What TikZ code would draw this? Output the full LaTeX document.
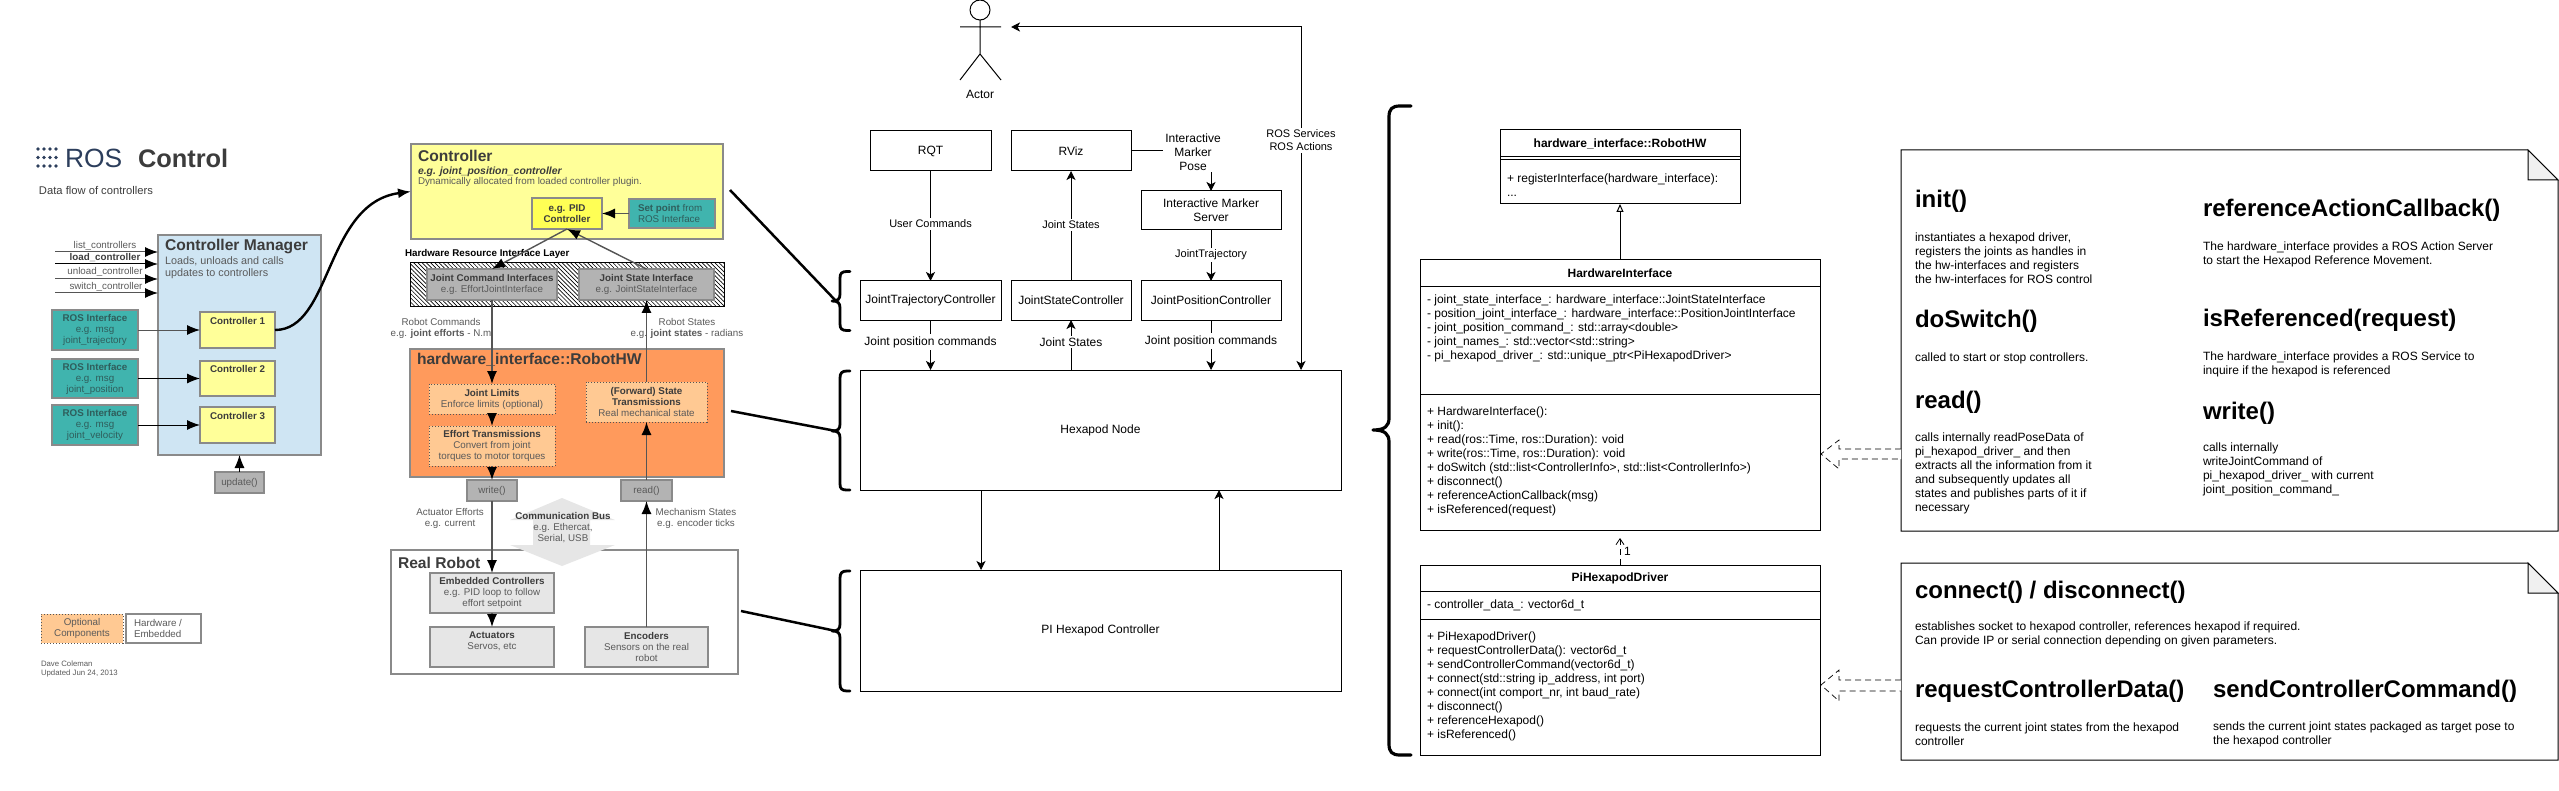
\documentclass[tikz,border=0pt]{standalone}
\usepackage{fontspec}
\setmainfont{Liberation Sans}
\usetikzlibrary{arrows.meta,patterns.meta,calc}
\definecolor{tdark}{HTML}{3C3C3C}
\definecolor{tmid}{HTML}{5A5A5A}
\definecolor{tealbox}{HTML}{40B4AE}
\definecolor{tealtxt}{HTML}{2F5E5C}
\definecolor{yellowbox}{HTML}{FFFF99}
\definecolor{pidbox}{HTML}{FFFF55}
\definecolor{bluebox}{HTML}{CFE5F3}
\definecolor{orangebox}{HTML}{FF9A5C}
\definecolor{peachbox}{HTML}{FFC993}
\definecolor{greybox}{HTML}{B3B3B3}
\definecolor{lightbox}{HTML}{E6E6E6}
\definecolor{edgegrey}{HTML}{8A8A8A}
\definecolor{rosblue}{HTML}{2C3E5C}
\definecolor{arrgrey}{HTML}{555555}
\newcommand\bx[7]{\node[#6,inner sep=0pt,outer sep=0pt,align=center,minimum width={(#4-#2)*0.5},minimum height={(#5-#3)*0.5}] (#1) at ({(#2+#4)/2},{(#3+#5)/2}) {#7};}
\newcommand\tx[5]{\node[inner sep=0pt,outer sep=0pt,#4] (#1) at (#2,#3) {#5};}
\tikzset{
 sz49/.style={font=\fontsize{4.9}{5.5}\selectfont},
 szhead/.style={font=\fontsize{7.8}{9}\selectfont\bfseries,text=tdark},
 ltxt/.style={sz49,text=tmid,align=center},
 sz6/.style={font=\fontsize{6}{7}\selectfont},
 sz55/.style={font=\fontsize{5.5}{6.5}\selectfont},
 titlebig/.style={font=\fontsize{12}{14}\selectfont\bfseries,anchor=west},
 bodytxt/.style={sz6,anchor=west,align=left},
 umltxt/.style={sz6,anchor=west,align=left},
 umlbox/.style={draw=black,line width=.5pt,sz6},
 flowbox/.style={draw=black,line width=.5pt,sz6},
 gbox/.style={draw=edgegrey,line width=.6pt},
 gheavy/.style={draw=edgegrey,line width=.8pt},
 dotbox/.style={draw=arrgrey,densely dotted,line width=.5pt,fill=peachbox,ltxt},
 bigtip/.style={-{Latex[length=6.5pt,width=5pt,color=black]}},
 ctlarrow/.style={bigtip,draw=black,line width=.5pt},
 garrow/.style={bigtip,draw=arrgrey,line width=.7pt},
 flowarrow/.style={-{Stealth[length=4.5pt,width=4.5pt,inset=1.2pt]},draw=black,line width=.5pt},
 lab/.style={fill=white,inner sep=1pt,sz55},
 lab6/.style={fill=white,inner sep=1pt,sz6},
 thickline/.style={draw=black,line width=1.25pt,line join=round},
 bracepath/.style={draw=black,line width=1.4pt,line cap=round,line join=round},
 hollow/.style={draw=black,densely dashed,line width=.35pt,fill=white},
}
\begin{document}
\begin{tikzpicture}[x=0.5pt,y=-0.5pt]
\useasboundingbox (0,0) rectangle (2559,791);
% ---------- logo
\foreach \a in {38,44,50,56}{\foreach \b in {149,157.5,166}{\fill[rosblue] (\a,\b) circle (1.9);}}
\tx{rosword}{65}{158}{anchor=west,text=rosblue,font=\fontsize{13.2}{15}\selectfont}{ROS}
\tx{ctrlword}{138}{158}{anchor=west,text=tdark,font=\fontsize{12.7}{15}\selectfont\bfseries}{Control}
\tx{flowword}{39}{190}{anchor=west,text=tdark,font=\fontsize{5.6}{7}\selectfont}{Data flow of controllers}
% ---------- controller manager
\bx{cm}{158}{235}{321}{455}{gbox,fill=bluebox}{}
\tx{cmtitle}{165}{247}{anchor=west,szhead}{Controller Manager}
\tx{cmsub}{165}{268}{anchor=west,align=left,text=tmid,font=\fontsize{5.4}{6}\selectfont}{Loads, unloads and calls\\updates to controllers}
\coordinate (s1) at (55,252); \coordinate (s2) at (55,264); \coordinate (s3) at (55,279); \coordinate (s4) at (55,293);
\draw[ctlarrow,draw=arrgrey] (s1) -- (s1 -| cm.west);
\draw[ctlarrow] (s2) -- (s2 -| cm.west);
\draw[ctlarrow,draw=arrgrey] (s3) -- (s3 -| cm.west);
\draw[ctlarrow,draw=arrgrey] (s4) -- (s4 -| cm.west);
\tx{l1}{105}{246}{ltxt}{list\_controllers}
\tx{l2}{105}{258}{sz49,text=tdark}{\textbf{load\_controller}}
\tx{l3}{105}{272}{ltxt}{unload\_controller}
\tx{l4}{106}{287}{ltxt}{switch\_controller}
\bx{ri1}{52}{310}{138}{350}{gbox,fill=tealbox,sz49,text=tealtxt}{\textbf{ROS Interface}\\e.g. msg\\joint\_trajectory}
\bx{ri2}{52}{359}{138}{398}{gbox,fill=tealbox,sz49,text=tealtxt}{\textbf{ROS Interface}\\e.g. msg\\joint\_position}
\bx{ri3}{52}{405}{138}{445}{gbox,fill=tealbox,sz49,text=tealtxt}{\textbf{ROS Interface}\\e.g. msg\\joint\_velocity}
\bx{c1}{200}{312}{275}{348}{gbox,fill=yellowbox}{}
\bx{c2}{200}{361}{275}{396}{gbox,fill=yellowbox}{}
\bx{c3}{200}{407}{275}{443}{gbox,fill=yellowbox}{}
\tx{c1t}{237.5}{321}{sz49,text=tdark}{\textbf{Controller 1}}
\tx{c2t}{237.5}{369}{sz49,text=tdark}{\textbf{Controller 2}}
\tx{c3t}{237.5}{416}{sz49,text=tdark}{\textbf{Controller 3}}
\draw[ctlarrow,draw=arrgrey] (ri1.east) -- (c1.west);
\draw[ctlarrow] (ri2.east) -- (c2.west);
\draw[ctlarrow] (ri3.east) -- (c3.west);
\bx{upd}{215}{472}{264}{493}{gbox,fill=greybox,ltxt}{update()}
\draw[ctlarrow] (upd.north) -- (upd.north |- cm.south);
% legend
\bx{leg1}{41}{614}{123}{643}{dotbox}{Optional\\Components}
\bx{leg2}{126}{614}{201}{643}{gheavy,fill=white}{}
\tx{leg2t}{134}{628.5}{anchor=west,ltxt,align=left}{Hardware /\\Embedded}
\tx{dave}{41}{668.5}{anchor=west,align=left,text=tmid,font=\fontsize{3.9}{4.5}\selectfont}{Dave Coleman\\Updated Jun 24, 2013}
% ---------- controller
\bx{ctl}{411}{144}{723}{239}{gheavy,fill=yellowbox}{}
\tx{ctlt}{418}{156}{anchor=west,szhead}{Controller}
\tx{ctls}{418}{172}{anchor=west,text=tdark,font=\fontsize{5.2}{6}\selectfont\bfseries\itshape}{e.g. joint\_position\_controller}
\tx{ctld}{418}{182}{anchor=west,text=tmid,font=\fontsize{4.9}{6}\selectfont}{Dynamically allocated from loaded controller plugin.}
\bx{pid}{532}{198}{602}{229}{gbox,fill=pidbox,sz49,text=tdark,font=\fontsize{4.9}{5.5}\selectfont\bfseries}{e.g. PID\\Controller}
\bx{setp}{629}{199}{715}{228}{gbox,fill=tealbox}{}
\tx{setpt}{638}{213}{anchor=west,align=left,sz49,text=tealtxt}{\textbf{Set point} from\\ROS Interface}
\draw[ctlarrow,draw=arrgrey,line width=.7pt] (setp.west) -- (setp.west -| pid.east);
\tx{hrl}{405}{254}{anchor=west,sz49,text=black}{\textbf{Hardware Resource Interface Layer}}
\bx{hatch}{410}{263}{724}{307}{draw=black,line width=.5pt,fill=white,pattern={Lines[angle=-45,distance=1.5pt,line width=.3pt]}}{}
\bx{jci}{427}{269}{557}{300}{gbox,fill=greybox,ltxt}{\textbf{\textcolor{tdark}{Joint Command Interfaces}}\\e.g. EffortJointInterface}
\bx{jsi}{579}{269}{714}{300}{gbox,fill=greybox,ltxt}{\textbf{\textcolor{tdark}{Joint State Interface}}\\e.g. JointStateInterface}
\draw[garrow] (pid.south) -- (jci.north);
\draw[garrow] (jsi.north) -- (pid.south);
\tx{rcmd}{441}{328.5}{ltxt}{Robot Commands\\e.g. \textbf{joint efforts} - N.m}
\tx{rsta}{687}{328.5}{ltxt}{Robot States\\e.g. \textbf{joint states} - radians}
\bx{rhw}{410}{349}{724}{477}{gbox,fill=orangebox}{}
\tx{rhwt}{417}{360}{anchor=west,szhead}{hardware\_interface::RobotHW}
\bx{jl}{429}{384}{555}{414}{dotbox}{\textbf{\textcolor{tdark}{Joint Limits}}\\Enforce limits (optional)}
\bx{et}{429}{426}{555}{466}{dotbox}{\textbf{\textcolor{tdark}{Effort Transmissions}}\\Convert from joint\\torques to motor torques}
\bx{fst}{586}{382}{707}{422}{dotbox}{\textbf{\textcolor{tdark}{(Forward) State}}\\\textbf{\textcolor{tdark}{Transmissions}}\\Real mechanical state}
\bx{wr}{467}{480}{517}{501}{gbox,fill=greybox,ltxt}{write()}
\bx{rd}{621}{480}{672}{501}{gbox,fill=greybox,ltxt}{read()}
\tx{aeff}{450}{518}{ltxt}{Actuator Efforts\\e.g. current}
\tx{mst}{696}{518}{ltxt}{Mechanism States\\e.g. encoder ticks}
% real robot
\bx{real}{391}{550}{738}{674}{gheavy,fill=white}{}
\fill[lightbox] (562,498) -- (615,520) -- (590,520) -- (590,545) -- (615,545) -- (562,566) -- (510,545) -- (533,545) -- (533,520) -- (510,520) -- cycle;
\tx{bus}{563}{528}{ltxt}{\textbf{\textcolor{tdark}{Communication Bus}}\\e.g. Ethercat,\\Serial, USB}
\tx{realt}{398}{563}{anchor=west,szhead}{Real Robot}
\bx{emb}{430}{573}{554}{613}{gbox,fill=lightbox,ltxt}{\textbf{\textcolor{tdark}{Embedded Controllers}}\\e.g. PID loop to follow\\effort setpoint}
\bx{act}{430}{627}{554}{667}{gbox,fill=lightbox}{}
\tx{actt}{492}{641.5}{ltxt}{\textbf{\textcolor{tdark}{Actuators}}\\Servos, etc}
\bx{enc}{585}{627}{708}{667}{gbox,fill=lightbox,ltxt}{\textbf{\textcolor{tdark}{Encoders}}\\Sensors on the real\\robot}
\draw[garrow] (jci.south) -- (jl.north);
\draw[garrow] (jl.south) -- (et.north);
\draw[garrow] (et.south) -- (wr.north);
\draw[garrow] (wr.south) -- (emb.north);
\draw[garrow] (emb.south) -- (act.north);
\draw[garrow] (enc.north) -- (rd.south);
\draw[garrow] (rd.north) -- (fst.south);
\draw[garrow] (fst.north) -- (jsi.south);
\draw[-{Latex[length=6.5pt,width=5pt]},draw=black,line width=1.2pt] (c1.east) .. controls (332,330) and (325,203) .. (ctl.west);
% ---------- thick links and braces
\coordinate (t1) at (730,190); \coordinate (b1) at (836,301);
\coordinate (t2) at (731,411); \coordinate (b2) at (836,431);
\coordinate (t3) at (741,611); \coordinate (b3) at (836,631);
\draw[thickline] (t1) -- (b1);
\draw[thickline] (t2) -- (b2);
\draw[thickline] (t3) -- (b3);
\draw[bracepath] (850,271.5) -- (847,271.5) .. controls (842,271.5) and (840,273) .. (840,278) -- (840,294) .. controls (840,299) and (838,301) .. (832,301) .. controls (838,301) and (840,303) .. (840,308) -- (840,324) .. controls (840,329) and (842,330.5) .. (847,330.5) -- (850,330.5);
\draw[bracepath] (850,371) -- (847,371) .. controls (842,371) and (840,373) .. (840,378) -- (840,424) .. controls (840,429) and (838,431) .. (832,431) .. controls (838,431) and (840,433) .. (840,438) -- (840,484) .. controls (840,489) and (842,490) .. (847,490) -- (850,490);
\draw[bracepath] (850,571) -- (847,571) .. controls (842,571) and (840,573) .. (840,578) -- (840,624) .. controls (840,629) and (838,631) .. (832,631) .. controls (838,631) and (840,633) .. (840,638) -- (840,684) .. controls (840,689) and (842,691) .. (847,691) -- (850,691);
\draw[bracepath,line width=1.6pt] (1411,106) -- (1400,106) .. controls (1392,106) and (1389,109) .. (1389,117) -- (1389,418) .. controls (1389,426) and (1385,430) .. (1373,430) .. controls (1385,430) and (1389,434) .. (1389,442) -- (1389,744) .. controls (1389,752) and (1392,755) .. (1400,755) -- (1411,755);
% ---------- actor
\draw[black,line width=.5pt] (980,10) circle (10);
\draw[black,line width=.5pt] (960,27) -- (1001,27) (980,20) -- (980,54) -- (960,80) (980,54) -- (1001,80);
\tx{actor}{980}{94}{sz6}{Actor}
\coordinate (actorR) at (1011,27);
% ---------- flow
\bx{rqt}{870}{131}{991}{171}{flowbox}{RQT}
\bx{rviz}{1011}{131}{1131}{171}{flowbox}{RViz}
\bx{ims}{1141}{191}{1281}{230}{flowbox}{Interactive Marker\\Server}
\bx{jtc}{860}{281}{1001}{320}{flowbox}{JointTrajectoryController}
\bx{jsc}{1011}{281}{1131}{320}{flowbox}{JointStateController}
\bx{jpc}{1141}{281}{1281}{320}{flowbox}{JointPositionController}
\bx{hex}{860}{370}{1341}{490}{flowbox}{Hexapod Node}
\bx{pi}{860}{570}{1341}{691}{flowbox}{PI Hexapod Controller}
\draw[flowarrow] (rqt.south) -- node[lab,pos=.48] (lb1) {User Commands} (jtc.north);
\draw[flowarrow] (jsc.north) -- node[lab,pos=.51] (lb2) {Joint States} (rviz.south);
\draw[flowarrow] (rviz.east) -| (ims.north);
\tx{imp}{1193}{152}{lab6,align=center}{Interactive\\Marker\\Pose}
\draw[flowarrow] (ims.south) -- node[lab,pos=.49] (lb3) {JointTrajectory} (jpc.north);
\draw[flowarrow] (jtc.south) -- node[lab6,pos=.44] (lb4) {Joint position commands} (jtc.south |- hex.north);
\draw[flowarrow] (jsc.south |- hex.north) -- node[lab6,pos=.56] (lb5) {Joint States} (jsc.south);
\draw[flowarrow] (jpc.south) -- node[lab6,pos=.42] (lb6) {Joint position commands} (jpc.south |- hex.north);
\coordinate (sv) at (1301,370);
\draw[flowarrow,{Stealth[length=4.5pt,width=4.5pt,inset=1.2pt]}-{Stealth[length=4.5pt,width=4.5pt,inset=1.2pt]}] (actorR) -| node[lab,pos=.665,align=center] (lb7) {ROS Services\\ROS Actions} (sv);
\coordinate (d1) at (981,490); \coordinate (d2) at (1219,490);
\draw[flowarrow] (d1) -- (d1 |- pi.north);
\draw[flowarrow] (d2 |- pi.north) -- (d2);
% ---------- UML
\bx{u1a}{1500}{130}{1740}{157}{umlbox,font=\fontsize{6}{7}\selectfont\bfseries}{hardware\_interface::RobotHW}
\bx{u1b}{1500}{157}{1740}{160}{umlbox}{}
\bx{u1c}{1500}{160}{1740}{204}{umlbox}{}
\tx{u1ct}{1507}{185.5}{umltxt}{+ registerInterface(hardware\_interface):\\...}
\bx{u2a}{1420}{260}{1820}{287}{umlbox,font=\fontsize{6}{7}\selectfont\bfseries}{HardwareInterface}
\bx{u2b}{1420}{287}{1820}{394}{umlbox}{}
\bx{u2c}{1420}{394}{1820}{530}{umlbox}{}
\tx{u2bt}{1427}{328}{umltxt}{- joint\_state\_interface\_: hardware\_interface::JointStateInterface\\- position\_joint\_interface\_: hardware\_interface::PositionJointInterface\\- joint\_position\_command\_: std::array<double>\\- joint\_names\_: std::vector<std::string>\\- pi\_hexapod\_driver\_: std::unique\_ptr<PiHexapodDriver>}
\tx{u2ct}{1427}{461}{umltxt}{+ HardwareInterface():\\+ init():\\+ read(ros::Time, ros::Duration): void\\+ write(ros::Time, ros::Duration): void\\+ doSwitch (std::list<ControllerInfo>, std::list<ControllerInfo>)\\+ disconnect()\\+ referenceActionCallback(msg)\\+ isReferenced(request)}
\bx{u3a}{1420}{565}{1820}{591}{umlbox,font=\fontsize{6}{7}\selectfont\bfseries}{PiHexapodDriver}
\bx{u3b}{1420}{591}{1820}{619}{umlbox}{}
\bx{u3c}{1420}{619}{1820}{755}{umlbox}{}
\tx{u3bt}{1427}{605}{umltxt}{- controller\_data\_: vector6d\_t}
\tx{u3ct}{1427}{686}{umltxt}{+ PiHexapodDriver()\\+ requestControllerData(): vector6d\_t\\+ sendControllerCommand(vector6d\_t)\\+ connect(std::string ip\_address, int port)\\+ connect(int comport\_nr, int baud\_rate)\\+ disconnect()\\+ referenceHexapod()\\+ isReferenced()}
\draw[-{Triangle[open,length=4pt,width=3.5pt,fill=white]},draw=black,line width=.5pt] (u2a.north) -- (u1c.south);
\coordinate (depend) at (1620,538);
\draw[-{Straight Barb[length=3pt,width=4pt]},densely dashed,draw=black,line width=.4pt] (u3a.north) -- (depend);
\tx{one}{1624}{551.5}{sz6,anchor=west}{1}
% ---------- notes
\draw[black,line width=.5pt,fill=white] (1901,150) -- (2528,150) -- (2558,180) -- (2558,531) -- (1901,531) -- cycle;
\draw[black,line width=.5pt,fill=lightbox!60] (2528,150) -- (2528,180) -- (2558,180) -- cycle;
\draw[black,line width=.5pt,fill=white] (1901,563) -- (2528,563) -- (2558,593) -- (2558,760) -- (1901,760) -- cycle;
\draw[black,line width=.5pt,fill=lightbox!60] (2528,563) -- (2528,593) -- (2558,593) -- cycle;
\tx{n1a}{1915}{201}{titlebig}{init()}
\tx{n1b}{1915}{258}{bodytxt}{instantiates a hexapod driver,\\registers the joints as handles in\\the hw-interfaces and registers\\the hw-interfaces for ROS control}
\tx{n2a}{2203}{210}{titlebig}{referenceActionCallback()}
\tx{n2b}{2203}{254}{bodytxt}{The hardware\_interface provides a ROS Action Server\\to start the Hexapod Reference Movement.}
\tx{n3a}{1915}{321}{titlebig}{doSwitch()}
\tx{n3b}{1915}{358}{bodytxt}{called to start or stop controllers.}
\tx{n4a}{2203}{320}{titlebig}{isReferenced(request)}
\tx{n4b}{2203}{364}{bodytxt}{The hardware\_interface provides a ROS Service to\\inquire if the hexapod is referenced}
\tx{n5a}{1915}{402}{titlebig}{read()}
\tx{n5b}{1915}{473}{bodytxt}{calls internally readPoseData of\\pi\_hexapod\_driver\_ and then\\extracts all the information from it\\and subsequently updates all\\states and publishes parts of it if\\necessary}
\tx{n6a}{2203}{413}{titlebig}{write()}
\tx{n6b}{2203}{469}{bodytxt}{calls internally\\writeJointCommand of\\pi\_hexapod\_driver\_ with current\\joint\_position\_command\_}
\tx{n7a}{1915}{592}{titlebig}{connect() / disconnect()}
\tx{n7b}{1915}{634}{bodytxt}{establishes socket to hexapod controller, references hexapod if required.\\Can provide IP or serial connection depending on given parameters.}
\tx{n8a}{1915}{691}{titlebig}{requestControllerData()}
\tx{n8b}{1915}{734}{bodytxt}{requests the current joint states from the hexapod\\controller}
\tx{n9a}{2213}{691}{titlebig}{sendControllerCommand()}
\tx{n9b}{2213}{734}{bodytxt}{sends the current joint states packaged as target pose to\\the hexapod controller}
% hollow block arrows
\draw[hollow] (1901,449) -- (1839,449) -- (1839,440) -- (1821,454) -- (1839,469) -- (1839,459) -- (1901,459);
\draw[hollow] (1901,680) -- (1839,680) -- (1839,670) -- (1821,685) -- (1839,701) -- (1839,691) -- (1901,691);
\end{tikzpicture}
\end{document}
